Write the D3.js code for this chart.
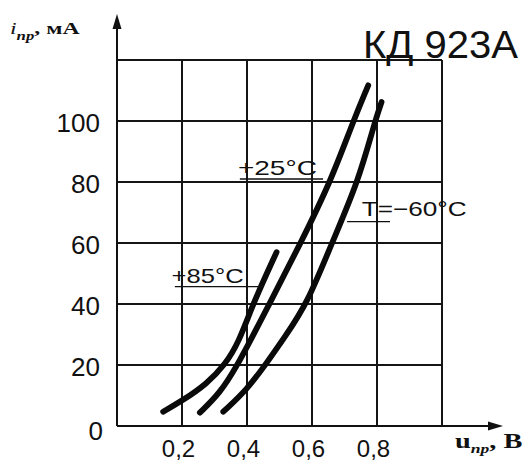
<!DOCTYPE html>
<meta charset="utf-8">
<head>
    <style>
        body {
            margin: 0;
            background: #fff;
        }

        svg {
            font-family: 'Liberation Sans', Arial, sans-serif;
        }

        .grid line {
            stroke: #151515;
            stroke-width: 1.6;
            shape-rendering: crispEdges;
        }

        .tick text {
            font-size: 24px;
            fill: #111;
        }

        .yaxis .tick text {
            font-size: 26px;
        }

        .curve {
            fill: none;
            stroke: #0a0a0a;
            stroke-width: 5.8;
            stroke-linecap: round;
        }
    </style>
</head>

<body>
    <svg id="chart"></svg>

    <script src="https://cdn.jsdelivr.net/npm/d3@7"></script>
    <script>

        // tick values (u in V, i in mA)
        var xTicks = [0.2, 0.4, 0.6, 0.8];
        var yTicks = [0, 20, 40, 60, 80, 100];
        var gridX = [0.2, 0.4, 0.6, 0.8, 1.0];
        var gridY = [20, 40, 60, 80, 100, 120];

        // curves: [u, i]
        var curve85 = [[0.142, 4.7], [0.204, 8.5], [0.276, 13.8], [0.332, 20], [0.375, 27.5],
            [0.418, 40], [0.491, 57]];
        var curve25 = [[0.255, 4.4], [0.317, 10.8], [0.368, 19.5], [0.415, 29], [0.469, 40],
            [0.565, 60], [0.657, 80], [0.727, 100], [0.773, 111.7]];
        var curve60 = [[0.327, 4.7], [0.399, 11.8], [0.461, 20.7], [0.515, 29], [0.585, 40],
            [0.661, 60], [0.742, 80], [0.794, 100], [0.814, 106.2]];

        var width = 526, height = 464;

        var svg = d3.select("#chart")
            .attr("width", width)
            .attr("height", height);

        var x = d3.scaleLinear().domain([0, 1]).range([117, 442]);
        var y = d3.scaleLinear().domain([0, 120]).range([426, 60]);

        // grid
        var grid = svg.append("g").attr("class", "grid");
        grid.selectAll(".gx")
            .data(gridX)
            .enter().append("line")
            .attr("x1", function (d) { return x(d); })
            .attr("x2", function (d) { return x(d); })
            .attr("y1", y(0))
            .attr("y2", y(120));
        grid.selectAll(".gy")
            .data(gridY)
            .enter().append("line")
            .attr("x1", x(0))
            .attr("x2", x(1))
            .attr("y1", function (d) { return y(d); })
            .attr("y2", function (d) { return y(d); });

        // axes with arrows
        svg.append("line")
            .attr("x1", x(0)).attr("x2", x(0))
            .attr("y1", y(0)).attr("y2", 22)
            .attr("stroke", "#111").attr("stroke-width", 2);
        svg.append("path")
            .attr("d", "M" + x(0) + ",14 l-4.5,15 l9,0 z")
            .attr("fill", "#111");
        svg.append("line")
            .attr("x1", x(0)).attr("x2", 495)
            .attr("y1", y(0)).attr("y2", y(0))
            .attr("stroke", "#111").attr("stroke-width", 2);
        svg.append("path")
            .attr("d", "M503," + y(0) + " l-15,-4.5 l0,9 z")
            .attr("fill", "#111");

        // tick labels
        svg.append("g")
            .attr("transform", "translate(0," + y(0) + ")")
            .call(d3.axisBottom(x)
                .tickValues(xTicks)
                .tickSize(0)
                .tickPadding(14)
                .tickFormat(function (d) { return d.toFixed(1).replace(".", ","); }))
            .call(function (g) { g.select(".domain").remove(); })
            .selectAll("text")
            .attr("dx", -4);

        svg.append("g")
            .attr("class", "yaxis")
            .attr("transform", "translate(" + x(0) + ",0)")
            .call(d3.axisLeft(y)
                .tickValues(yTicks)
                .tickSize(0)
                .tickPadding(17))
            .call(function (g) { g.select(".domain").remove(); })
            .selectAll("text")
            .attr("dy", function (d) { return d === 0 ? "0.5em" : "0.4em"; })
            .attr("dx", function (d) { return d === 0 ? 3 : 0; });

        // curves
        var line = d3.line()
            .x(function (d) { return x(d[0]); })
            .y(function (d) { return y(d[1]); })
            .curve(d3.curveBasis);

        [curve85, curve25, curve60].forEach(function (c) {
            svg.append("path")
                .datum(c)
                .attr("class", "curve")
                .attr("d", line);
        });

        // curve labels with leader lines
        function label(txt, u, i, len, lu0, lu1, li) {
            svg.append("text")
                .attr("x", x(u))
                .attr("y", y(i))
                .attr("font-size", 21)
                .attr("textLength", len)
                .attr("lengthAdjust", "spacingAndGlyphs")
                .attr("fill", "#111")
                .text(txt);
            svg.append("line")
                .attr("x1", x(lu0)).attr("x2", x(lu1))
                .attr("y1", y(li)).attr("y2", y(li))
                .attr("stroke", "#111").attr("stroke-width", 1.4);
        }
        label("+25°C", 0.372, 82.4, 79, 0.378, 0.634, 81.0);
        label("+85°C", 0.168, 46.9, 72, 0.178, 0.446, 45.7);
        label("T=\u221260°C", 0.753, 68.7, 105, 0.708, 0.840, 67.0);

        // title
        svg.append("text")
            .attr("x", 363)
            .attr("y", 58)
            .attr("font-size", 39)
            .attr("textLength", 155)
            .attr("lengthAdjust", "spacingAndGlyphs")
            .attr("fill", "#111")
            .text("КД 923А");

        // axis names (the scan is a bit stretched sideways)
        var yName = svg.append("text")
            .attr("transform", "translate(10,34) scale(1.4,1)")
            .attr("font-family", "'Liberation Serif', serif")
            .attr("font-size", 17)
            .attr("font-weight", "bold")
            .attr("fill", "#111");
        yName.append("tspan").attr("font-style", "italic").attr("font-weight", "normal").text("i");
        yName.append("tspan").attr("font-style", "italic").attr("font-size", 12).attr("dy", 6).text("пр");
        yName.append("tspan").attr("dy", -6).text(", мА");

        var xName = svg.append("text")
            .attr("transform", "translate(455,448) scale(1.35,1)")
            .attr("font-family", "'Liberation Serif', serif")
            .attr("font-size", 21)
            .attr("font-weight", "bold")
            .attr("fill", "#111");
        xName.append("tspan").text("u");
        xName.append("tspan").attr("font-style", "italic").attr("font-size", 13).attr("dy", 5).text("пр");
        xName.append("tspan").attr("dy", -5).text(", В");

    </script>
</body>
